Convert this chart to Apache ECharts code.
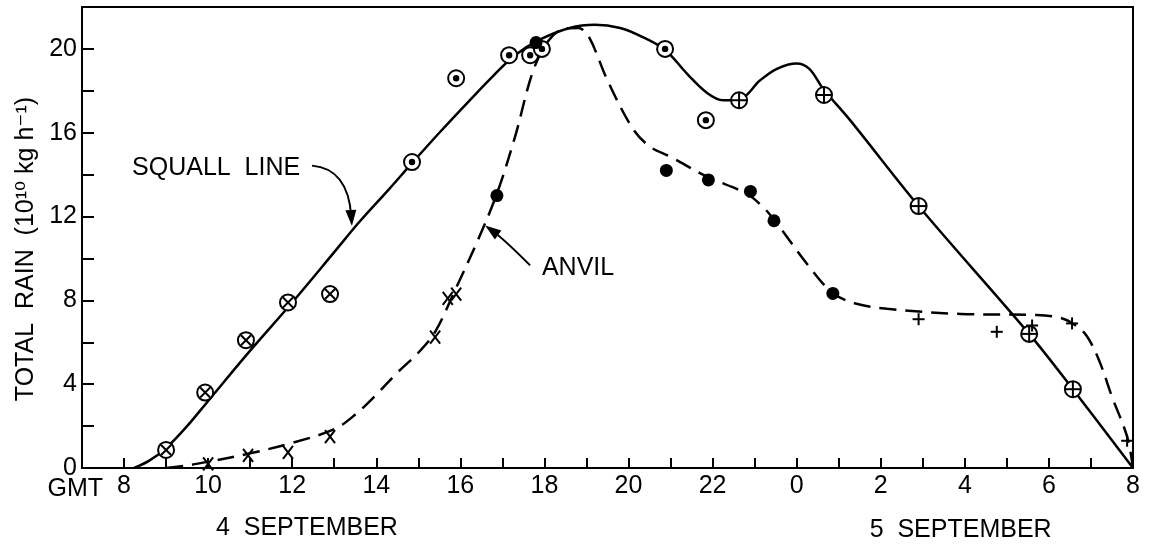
<!DOCTYPE html>
<html><head><meta charset="utf-8">
<script src="https://cdn.jsdelivr.net/npm/echarts@6/dist/echarts.min.js"></script>
<style>html,body{margin:0;padding:0;background:#fff}#c{width:1152px;height:547px}</style>
</head><body><div id="c"></div>
<script>
// ---- data (hours since 0 GMT 4 Sep; 24+ = 5 Sep) ----
const xLabelHours = [8,10,12,14,16,18,20,22,24,26,28,30,32];
const yLabelValues = [0,4,8,12,16,20];

// smooth curves
const squallCurve = [[8.24,0],[8.6,0.35],[9.0,0.95],[9.5,2.0],[10,3.2],[11,5.6],[12,7.9],[13,10.3],[13.6,11.75],[14.3,13.3],[14.85,14.55],[15.5,16.0],[16.2,17.5],[16.8,18.75],[17.3,19.7],[17.9,20.45],[18.6,21.0],[19.2,21.15],[19.8,21.0],[20.3,20.6],[20.87,19.95],[21.4,18.8],[21.87,17.9],[22.25,17.55],[22.65,17.6],[23.13,18.5],[23.53,19.05],[24.0,19.3],[24.3,19.05],[24.63,18.1],[25.27,16.6],[26.9,12.5],[29.53,6.4],[30.57,3.76],[32,0]];
const anvilCurve = [[9.0,0],[9.5,0.12],[10,0.3],[11,0.7],[12,1.2],[13,1.85],[13.5,2.55],[14,3.5],[14.5,4.55],[15,5.5],[15.4,6.5],[15.9,8.6],[16.4,10.8],[16.87,13.1],[17.3,15.8],[17.73,18.95],[18.1,20.4],[18.45,20.95],[18.8,21.0],[19.05,20.6],[19.5,18.5],[20.1,16.2],[20.5,15.35],[21.0,14.85],[21.87,13.9],[22.8,13.1],[23.2,12.45],[23.5,11.75],[24.3,9.6],[24.86,8.35],[25.4,7.85],[26.15,7.6],[27.9,7.35],[29.7,7.3],[30.3,7.15],[30.6,6.85],[30.9,6.3],[31.2,5.1],[31.5,3.4],[31.86,1.5],[32,0]];

// observations
const squallCrossCircle = [[9.0,0.86],[9.93,3.6],[10.9,6.1],[11.9,7.9],[12.9,8.3]];
const squallDotCircle = [[14.85,14.6],[15.9,18.6],[17.16,19.7],[17.66,19.7],[17.94,20.0],[20.87,20.0],[21.84,16.6]];
const squallPlusCircle = [[22.63,17.55],[24.65,17.8],[26.9,12.5],[29.53,6.4],[30.57,3.76]];
const anvilCross = [[10.0,0.2],[10.95,0.6],[11.9,0.75],[12.9,1.5],[15.4,6.25],[15.7,8.1],[15.9,8.3]];
const anvilDot = [[16.87,13.0],[17.8,20.3],[20.9,14.2],[21.9,13.75],[22.9,13.2],[23.46,11.8],[24.86,8.33]];
const anvilPlus = [[26.9,7.1],[28.76,6.5],[29.6,6.8],[30.55,6.9],[31.86,1.3]];

// annotation anchors (data coordinates)
const squallLabelAt = [10.19,14.33];
const squallArrow = [[12.47,14.43],[13.33,14.29],[13.42,11.55]];
const anvilLabelAt = [18.8,9.52];
const anvilArrow = [[17.66,9.67],[17.05,10.9],[16.59,11.57]];
const day1LabelAt = 12.35, day2LabelAt = 27.9;

const FONT = "'Liberation Sans','DejaVu Sans',sans-serif";
const chart = echarts.init(document.getElementById('c'), null, {renderer:'canvas'});

function markerSeries(data, kind, z){
  return {
    type:'custom', data, z:z||5, encode:{x:0,y:1}, clip:false,
    renderItem(params, api){
      const p = api.coord([api.value(0), api.value(1)]);
      const x=p[0], y=p[1];
      const st = {stroke:'#000', lineWidth:2};
      const ln = (a,b,c,d)=>({type:'line', shape:{x1:x+a,y1:y+b,x2:x+c,y2:y+d}, style:st});
      const ch = [];
      if (kind==='circX'||kind==='circDot'||kind==='circPlus'){
        ch.push({type:'circle', shape:{cx:x,cy:y,r:8}, style:{fill:'#fff',stroke:'#000',lineWidth:2}});
        if(kind==='circX'){ ch.push(ln(-5,-5,5,5), ln(5,-5,-5,5)); }
        if(kind==='circDot'){ ch.push({type:'circle', shape:{cx:x,cy:y,r:3.2}, style:{fill:'#000'}}); }
        if(kind==='circPlus'){ ch.push(ln(-8,0,8,0), ln(0,-8,0,8)); }
      } else if (kind==='dot'){
        ch.push({type:'circle', shape:{cx:x,cy:y,r:6.5}, style:{fill:'#000'}});
      } else if (kind==='x'){
        ch.push(ln(-5,-6.5,5,6.5), ln(5,-6.5,-5,6.5));
      } else if (kind==='plus'){
        ch.push(ln(-6,0,6,0), ln(0,-6,0,6));
      }
      return {type:'group', children:ch};
    }
  };
}

chart.setOption({
  animation:false,
  backgroundColor:'#fff',
  grid:{left:82,right:19,top:7,bottom:79,show:true,borderColor:'#000',borderWidth:2,backgroundColor:'transparent'},
  xAxis:{
    type:'value', min:7, max:32, interval:1,
    axisLine:{lineStyle:{color:'#000',width:2}},
    axisTick:{inside:true,length:10,lineStyle:{color:'#000',width:2}},
    splitLine:{show:false},
    axisLabel:{color:'#000',fontFamily:FONT,fontSize:25,margin:6,
      formatter:v=> xLabelHours.indexOf(v)>=0 ? String(v%24) : ''}
  },
  yAxis:{
    type:'value', min:0, max:22, interval:2,
    axisLine:{lineStyle:{color:'#000',width:2}},
    axisTick:{inside:true,length:12,lineStyle:{color:'#000',width:2}},
    splitLine:{show:false},
    axisLabel:{color:'#000',fontFamily:FONT,fontSize:25,margin:5,
      formatter:v=> yLabelValues.indexOf(v)>=0 ? String(v) : ''}
  },
  series:[
    {type:'line', data:squallCurve, smooth:0.35, showSymbol:false, z:3,
      lineStyle:{color:'#000',width:2.5}},
    {type:'line', data:anvilCurve, smooth:0.35, showSymbol:false, z:3,
      lineStyle:{color:'#000',width:2.5,type:[17,9]}},
    markerSeries(squallCrossCircle,'circX'),
    markerSeries(squallDotCircle,'circDot'),
    markerSeries(squallPlusCircle,'circPlus'),
    markerSeries(anvilCross,'x'),
    markerSeries(anvilDot,'dot'),
    markerSeries(anvilPlus,'plus',7)
  ]
});

const P = d => chart.convertToPixel({gridIndex:0}, d);
function arrow(id, pts){
  const a=P(pts[0]), c=P(pts[1]), b=P(pts[2]);
  const dx=b[0]-c[0], dy=b[1]-c[1], L=Math.hypot(dx,dy)||1;
  const ux=dx/L, uy=dy/L, len=16, hw=5.5;
  const bx=b[0]-ux*len, by=b[1]-uy*len;
  const e1=[bx-uy*hw, by+ux*hw], e2=[bx+uy*hw, by-ux*hw];
  const stopX=b[0]-ux*len*0.6, stopY=b[1]-uy*len*0.6;
  return [
    {type:'bezierCurve', id:id+'c', z:10, shape:{x1:a[0],y1:a[1],cpx1:c[0],cpy1:c[1],x2:stopX,y2:stopY},
      style:{stroke:'#000',lineWidth:2,fill:null}},
    {type:'polygon', id:id+'h', z:10, shape:{points:[b,e1,e2]}, style:{fill:'#000'}}
  ];
}
const o = P([8,0]);
const sq = P(squallLabelAt), an = P(anvilLabelAt);
const d1 = P([day1LabelAt,0]), d2 = P([day2LabelAt,0]);
const txt = (id,x,y,text,extra)=>Object.assign({type:'text', id, x, y, z:10,
  style:Object.assign({text, fill:'#000', font:'25px '+FONT, textAlign:'center', textVerticalAlign:'middle'}, extra||{})});
chart.setOption({graphic:[
  txt('gmt', o[0]-21, o[1]+21, 'GMT', {textAlign:'right'}),
  txt('d1', d1[0], d1[1]+60, '4  SEPTEMBER'),
  txt('d2', d2[0], d2[1]+62, '5  SEPTEMBER'),
  txt('sq', sq[0], sq[1], 'SQUALL  LINE'),
  txt('an', an[0], an[1], 'ANVIL'),
  Object.assign(txt('yt', 26, 249, 'TOTAL  RAIN  (10\u00b9\u2070 kg h\u207b\u00b9)'), {rotation:Math.PI/2}),
  ...arrow('sa', squallArrow),
  ...arrow('aa', anvilArrow)
]});
</script></body></html>
